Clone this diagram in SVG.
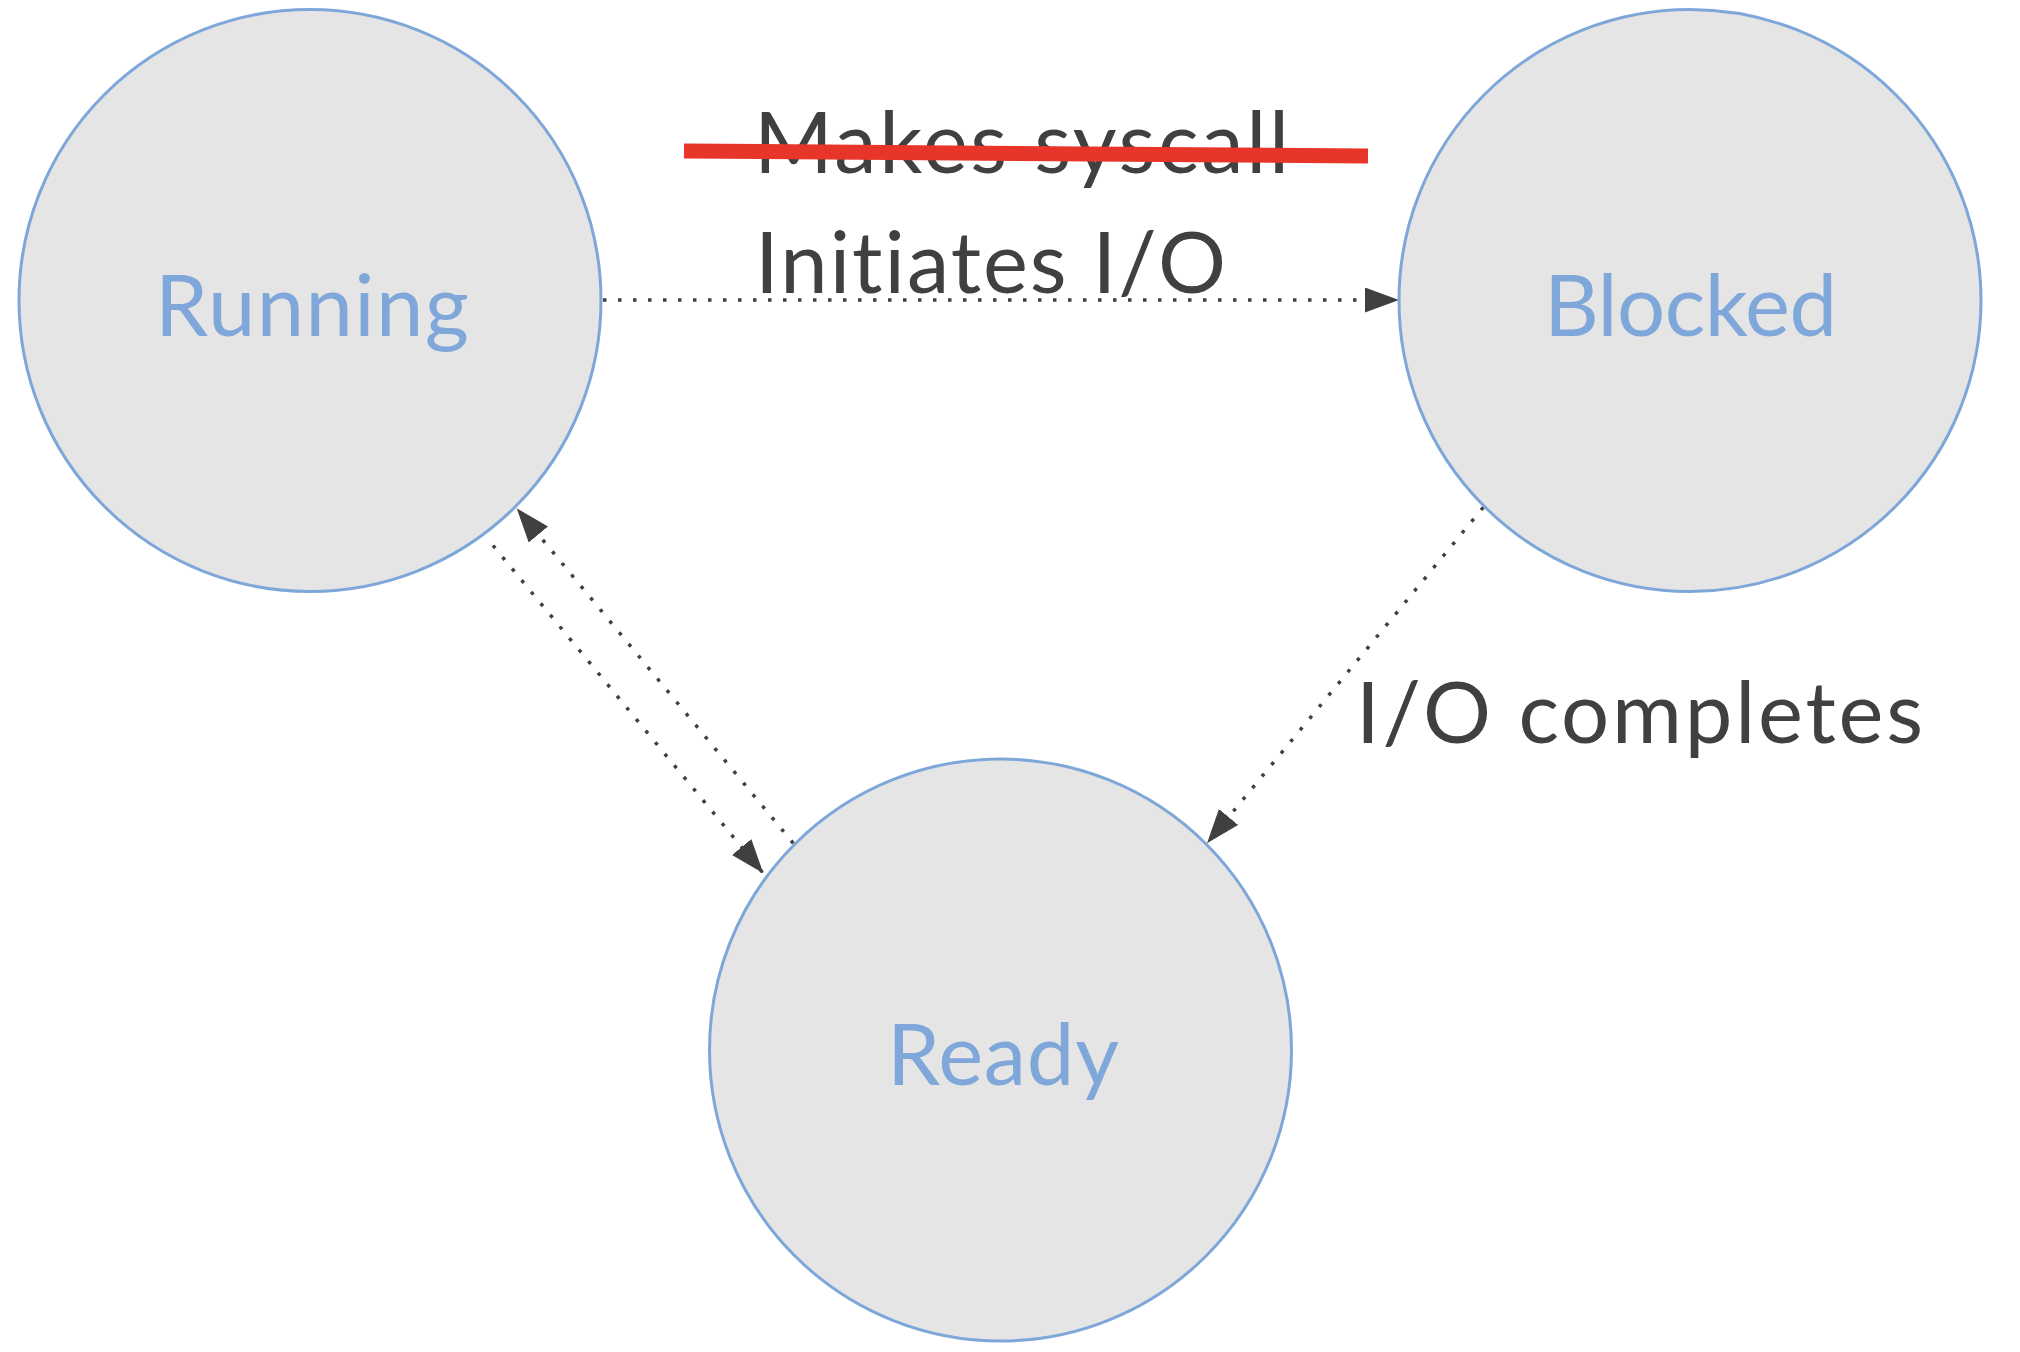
<svg xmlns="http://www.w3.org/2000/svg" width="2020" height="1352" viewBox="0 0 2020 1352">
  <style>
    .node { fill: #E5E5E5; stroke: #7EA7D9; stroke-width: 3; }
    text { font-variant-ligatures: none; }
    .nlabel { font-family: Lato, "Open Sans", "Liberation Sans", sans-serif; font-size: 85px; fill: #7FA7D9; }
    .elabel { font-family: Lato, "Open Sans", "Liberation Sans", sans-serif; font-size: 85px; fill: #404040; }
    .conn { stroke: #404040; stroke-width: 3.5; stroke-dasharray: 3.5 11.5; fill: none; marker-end: url(#arrow); }
  </style>
  <defs>
    <marker id="arrow" markerUnits="userSpaceOnUse" markerWidth="36" markerHeight="26" refX="34" refY="12.5" orient="auto" viewBox="0 0 36 26">
      <path d="M0,0 L34,12.5 L0,25 z" fill="#404040"/>
    </marker>
  </defs>
  <rect width="2020" height="1352" fill="#FFFFFF"/>

  <g id="connectors">
    <line class="conn" x1="603" y1="300" x2="1399" y2="300"/>
    <line class="conn" x1="493" y1="545.5" x2="763.3" y2="873.3"/>
    <line class="conn" x1="793.3" y1="843.3" x2="516.7" y2="508.3"/>
    <line class="conn" x1="1483.3" y1="507.3" x2="1207" y2="843.3"/>
  </g>

  <g id="node-running">
    <circle class="node" cx="310" cy="300.5" r="291"/>
    <text class="nlabel" x="155" y="336" textLength="314">Running</text>
  </g>
  <g id="node-blocked">
    <circle class="node" cx="1690" cy="300.5" r="291"/>
    <text class="nlabel" x="1544" y="336" textLength="293">Blocked</text>
  </g>
  <g id="node-ready">
    <circle class="node" cx="1000.5" cy="1050" r="291"/>
    <text class="nlabel" x="887" y="1085" textLength="232">Ready</text>
  </g>

  <g id="labels">
    <text class="elabel" x="754" y="173" textLength="535">Makes syscall</text>
    <line x1="684" y1="151" x2="1368" y2="156" stroke="#E8352A" stroke-width="15"/>
    <text class="elabel" x="755" y="293" textLength="471">Initiates I/O</text>
    <text class="elabel" x="1356" y="743" textLength="567">I/O completes</text>
  </g>
</svg>
